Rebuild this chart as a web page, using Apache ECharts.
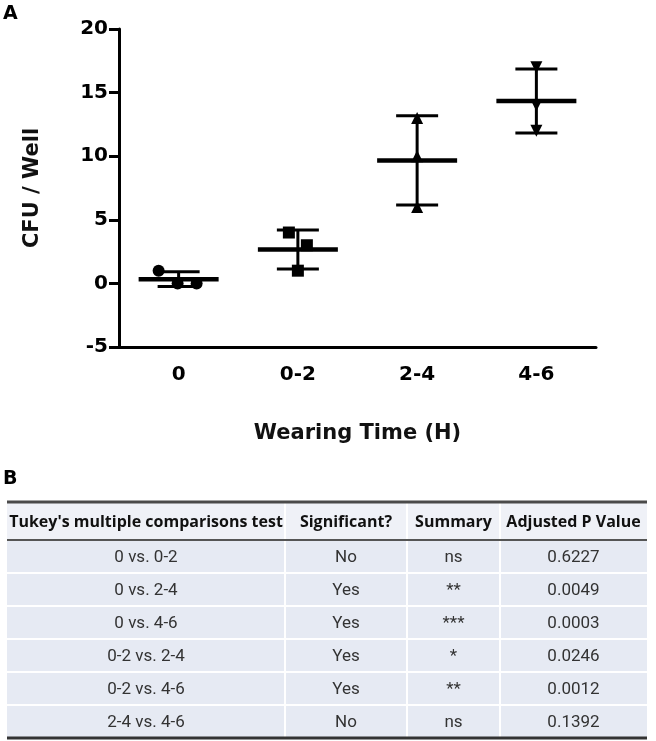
<!DOCTYPE html>
<html>
<head>
<meta charset="utf-8">
<script src="https://cdn.jsdelivr.net/npm/echarts@6/dist/echarts.min.js"></script>
<style>
html,body{margin:0;padding:0;background:#fff;}
#main{width:656px;height:741px;}
</style>
</head>
<body>
<div id="main"></div>
<script>
// ---------- data ----------
const categories = ['0', '0-2', '2-4', '4-6'];
const values0   = [1, 0, 0];
const values02  = [4, 3, 1];
const values24  = [13, 10, 6];
const values46  = [17, 14, 12];
const yTickValues = [-5, 0, 5, 10, 15, 20];

const tableHeader   = ["Tukey's multiple comparisons test", 'Significant?', 'Summary', 'Adjusted P Value'];
const comparisons   = ['0 vs. 0-2', '0 vs. 2-4', '0 vs. 4-6', '0-2 vs. 2-4', '0-2 vs. 4-6', '2-4 vs. 4-6'];
const significant   = ['No', 'Yes', 'Yes', 'Yes', 'Yes', 'No'];
const summaries     = ['ns', '**', '***', '*', '**', 'ns'];
const adjustedP     = ['0.6227', '0.0049', '0.0003', '0.0246', '0.0012', '0.1392'];

// ---------- styles ----------
const groups = [values0, values02, values24, values46];
const symbols = ['circle', 'rect', 'triangle', 'triangle'];
const symbolRotations = [0, 0, 0, 180];
const jitterPx = [[-20, -1, 18], [-9, 9, 0], [0, 0, 0], [0, 0, 0]];
const chartFont = 'DejaVu Sans';

function mean(a){ return a.reduce((s,v)=>s+v,0)/a.length; }
function sd(a){ const m=mean(a); return Math.sqrt(a.reduce((s,v)=>s+(v-m)*(v-m),0)/(a.length-1)); }

const summaryData = groups.map((g,i)=>[i, mean(g), sd(g)]);

const scatterSeries = groups.map((g, gi) => ({
  type: 'scatter',
  symbol: symbols[gi],
  symbolSize: 12,
  symbolRotate: symbolRotations[gi],
  itemStyle: { color: '#000', opacity: 1 },
  data: g.map((v, k) => ({ value: [gi, v], symbolOffset: [jitterPx[gi][k], 0] })),
  z: 3
}));

const errorSeries = {
  type: 'custom',
  z: 4,
  data: summaryData,
  renderItem: function(params, api){
    const x = api.value(0), m = api.value(1), s = api.value(2);
    const pm = api.coord([x, m]);
    const pt = api.coord([x, m + s]);
    const pb = api.coord([x, m - s]);
    const capW = 21, meanW = 40;
    const st = { stroke: '#000', lineWidth: 3 };
    return {
      type: 'group',
      children: [
        { type: 'line', shape: { x1: pm[0], y1: pt[1], x2: pm[0], y2: pb[1] }, style: st },
        { type: 'line', shape: { x1: pm[0]-capW, y1: pt[1], x2: pm[0]+capW, y2: pt[1] }, style: st },
        { type: 'line', shape: { x1: pm[0]-capW, y1: pb[1], x2: pm[0]+capW, y2: pb[1] }, style: st },
        { type: 'line', shape: { x1: pm[0]-meanW, y1: pm[1], x2: pm[0]+meanW, y2: pm[1] }, style: { stroke: '#000', lineWidth: 4.5 } }
      ]
    };
  }
};

// ---------- table (graphic) ----------
const T = { left: 7, right: 647, top: 502, headH: 38, rowH: 33, cols: [7, 285, 407, 500, 647] };
const graphics = [];
const nRows = comparisons.length;
const bodyTop = T.top + T.headH;
const bottom = bodyTop + nRows * T.rowH;
graphics.push({ type: 'rect', shape: { x: T.left, y: T.top, width: T.right - T.left, height: T.headH }, style: { fill: '#EFF1F7' } });
graphics.push({ type: 'rect', shape: { x: T.left, y: bodyTop, width: T.right - T.left, height: nRows * T.rowH }, style: { fill: '#E6EAF3' } });
for (let r = 1; r < nRows; r++) {
  const y = bodyTop + r * T.rowH;
  graphics.push({ type: 'line', shape: { x1: T.left, y1: y, x2: T.right, y2: y }, style: { stroke: '#fff', lineWidth: 2 } });
}
for (let c = 1; c < T.cols.length - 1; c++) {
  graphics.push({ type: 'line', shape: { x1: T.cols[c], y1: T.top, x2: T.cols[c], y2: bottom }, style: { stroke: '#fff', lineWidth: 2 } });
}
graphics.push({ type: 'line', shape: { x1: T.left, y1: T.top, x2: T.right, y2: T.top }, style: { stroke: '#4a4a4a', lineWidth: 3 } });
graphics.push({ type: 'line', shape: { x1: T.left, y1: bodyTop, x2: T.right, y2: bodyTop }, style: { stroke: '#555', lineWidth: 2 } });
graphics.push({ type: 'line', shape: { x1: T.left, y1: bottom, x2: T.right, y2: bottom }, style: { stroke: '#333', lineWidth: 3 } });
tableHeader.forEach((h, c) => {
  graphics.push({ type: 'text', x: (T.cols[c] + T.cols[c+1]) / 2, y: T.top + T.headH / 2 + 1,
    style: { text: h, fill: '#111', font: 'bold 16px "Open Sans"', align: 'center', verticalAlign: 'middle' } });
});
const columnsData = [comparisons, significant, summaries, adjustedP];
columnsData.forEach((col, c) => {
  col.forEach((txt, r) => {
    graphics.push({ type: 'text', x: (T.cols[c] + T.cols[c+1]) / 2, y: bodyTop + r * T.rowH + T.rowH / 2 + 1,
      style: { text: txt, fill: '#333', font: '17px Roboto', align: 'center', verticalAlign: 'middle' } });
  });
});
graphics.push({ type: 'text', x: 3, y: 5, style: { text: 'A', fill: '#000', font: 'bold 19px "DejaVu Sans"' } });
graphics.push({ type: 'text', x: 3, y: 470, style: { text: 'B', fill: '#000', font: 'bold 19px "DejaVu Sans"' } });

const chart = echarts.init(document.getElementById('main'), null, { renderer: 'canvas' });
chart.setOption({
  animation: false,
  backgroundColor: '#fff',
  grid: { left: 119, right: 60, top: 29, bottom: 394, containLabel: false },
  xAxis: {
    type: 'category',
    data: categories,
    boundaryGap: true,
    name: 'Wearing Time (H)',
    nameLocation: 'middle',
    nameGap: 76,
    nameTextStyle: { fontFamily: chartFont, fontWeight: 'bold', fontSize: 21, color: '#111' },
    axisLine: { onZero: false, lineStyle: { color: '#000', width: 3 } },
    axisTick: { alignWithLabel: true, length: 10, lineStyle: { color: '#000', width: 3 } },
    axisLabel: { fontFamily: chartFont, fontWeight: 'bold', fontSize: 20, color: '#000', margin: 18 },
    splitLine: { show: false }
  },
  yAxis: {
    type: 'value',
    min: yTickValues[0],
    max: yTickValues[yTickValues.length - 1],
    interval: yTickValues[1] - yTickValues[0],
    name: 'CFU / Well',
    nameLocation: 'middle',
    nameGap: 76,
    nameRotate: 90,
    nameTextStyle: { fontFamily: chartFont, fontWeight: 'bold', fontSize: 21, color: '#111' },
    axisLine: { show: true, onZero: false, lineStyle: { color: '#000', width: 3 } },
    axisTick: { show: true, length: 10, lineStyle: { color: '#000', width: 3 } },
    axisLabel: { fontFamily: chartFont, fontWeight: 'bold', fontSize: 20, color: '#000', margin: 11 },
    splitLine: { show: false }
  },
  series: scatterSeries.concat([errorSeries]),
  graphic: graphics
});
</script>
</body>
</html>
